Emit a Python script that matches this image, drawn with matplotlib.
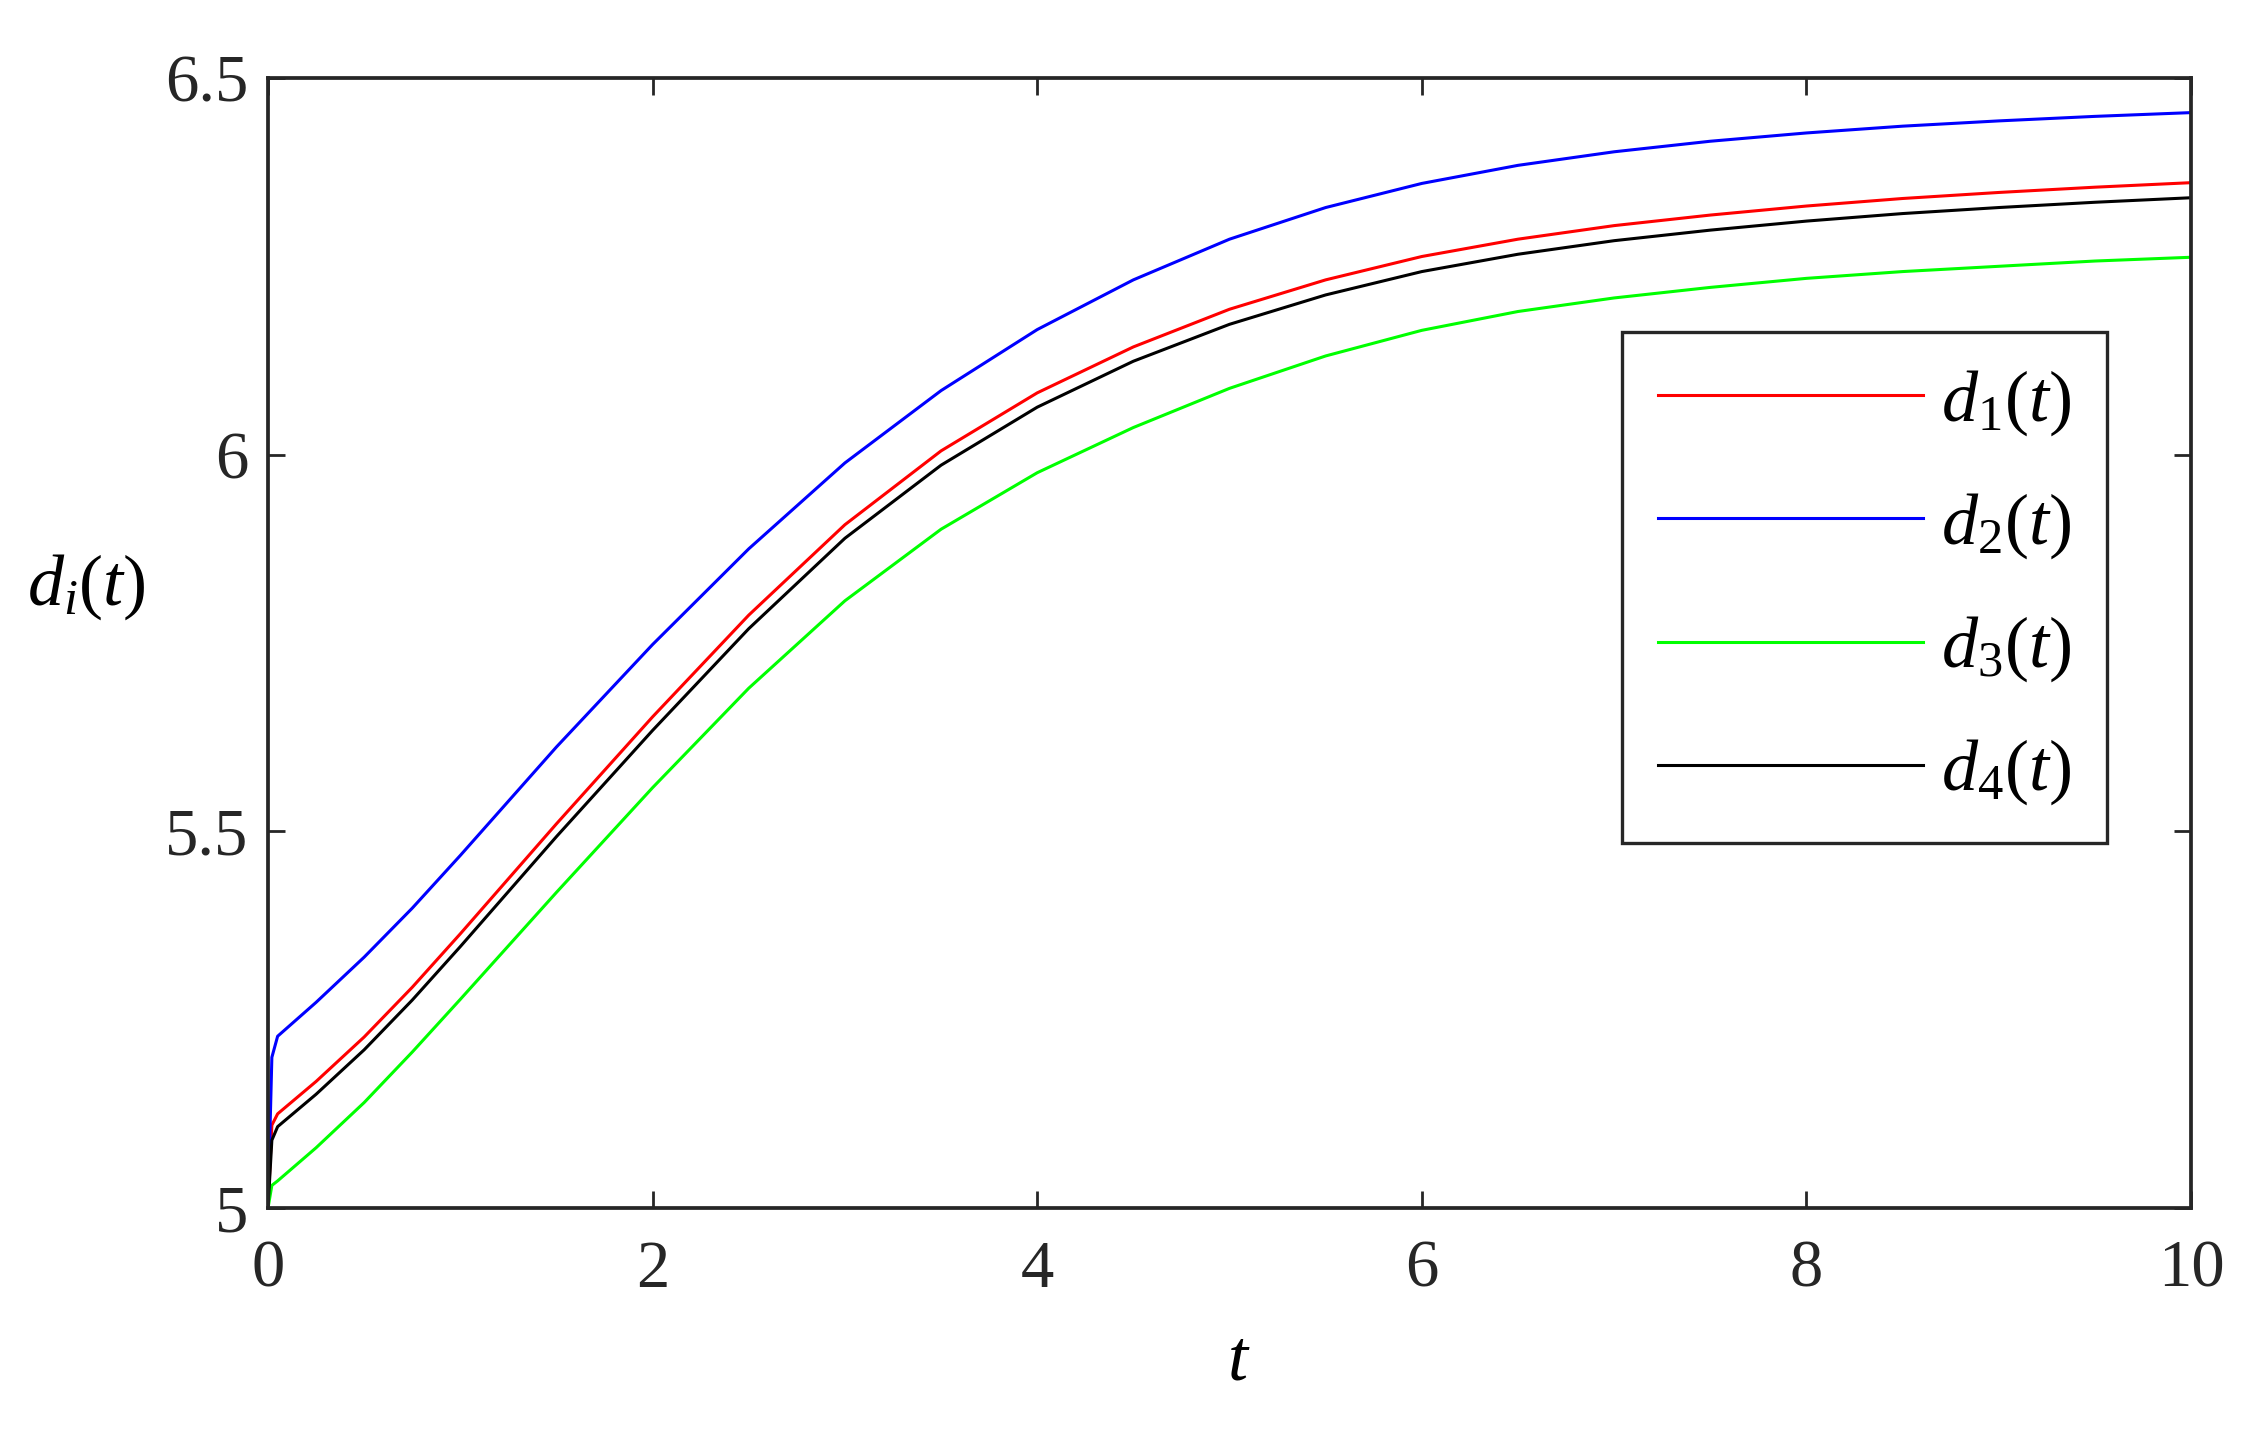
import matplotlib
matplotlib.use("Agg")
import matplotlib.pyplot as plt

# serif look like the MATLAB figure (Times)
plt.rcParams['font.family'] = 'Liberation Serif'
plt.rcParams['mathtext.fontset'] = 'custom'
plt.rcParams['mathtext.rm'] = 'Liberation Serif'
plt.rcParams['mathtext.it'] = 'Liberation Serif:italic'

# time samples
t = [0, 0.02, 0.05, 0.25, 0.5, 0.75, 1.0, 1.5, 2.0, 2.5, 3.0, 3.5, 4.0,
     4.5, 5.0, 5.5, 6.0, 6.5, 7.0, 7.5, 8.0, 8.5, 9.0, 9.5, 10.0]

# d_i(t) values
d1 = [5.0, 5.11, 5.125, 5.168, 5.227, 5.293, 5.364, 5.510, 5.652, 5.787, 5.907, 6.005, 6.082,
      6.143, 6.193, 6.232, 6.263, 6.286, 6.304, 6.318, 6.330, 6.340, 6.348, 6.355, 6.361]
d2 = [5.0, 5.20, 5.228, 5.273, 5.333, 5.398, 5.468, 5.612, 5.748, 5.875, 5.989, 6.085, 6.166,
      6.232, 6.286, 6.328, 6.360, 6.384, 6.402, 6.416, 6.427, 6.436, 6.443, 6.449, 6.454]
d3 = [5.0, 5.03, 5.036, 5.08, 5.14, 5.207, 5.277, 5.419, 5.558, 5.690, 5.806, 5.901, 5.976,
      6.036, 6.088, 6.131, 6.165, 6.190, 6.208, 6.222, 6.234, 6.243, 6.250, 6.257, 6.262]
d4 = [5.0, 5.09, 5.108, 5.151, 5.210, 5.276, 5.347, 5.493, 5.634, 5.769, 5.889, 5.986, 6.063,
      6.124, 6.173, 6.212, 6.243, 6.266, 6.284, 6.298, 6.310, 6.320, 6.328, 6.335, 6.341]

labels = ["$d_1(t)$", "$d_2(t)$", "$d_3(t)$", "$d_4(t)$"]
colors = ["#ff0000", "#0000ff", "#00ff00", "#000000"]

xticks = [0, 2, 4, 6, 8, 10]
yticks = [5, 5.5, 6, 6.5]

fig = plt.figure(figsize=(22.56, 14.33), dpi=100)
ax = fig.add_axes([0.1188, 0.1570, 0.8524, 0.7886])

for d, lab, c in zip([d1, d2, d3, d4], labels, colors):
    ax.plot(t, d, color=c, linewidth=2.2, label=lab)

ax.set_xlim(0, 10)
ax.set_ylim(5, 6.5)
ax.set_xticks(xticks)
ax.set_yticks(yticks)
ax.set_xticklabels([str(v) for v in xticks])
ax.set_yticklabels(["5", "5.5", "6", "6.5"])

# MATLAB style box: ticks inside on all four sides
ax.tick_params(direction="in", length=12, width=2, top=True, right=True,
               labelsize=48, colors="#262626", pad=14)
ax.tick_params(axis="x", pad=23)
for s in ax.spines.values():
    s.set_linewidth(2.7)
    s.set_color("#262626")

ax.set_xlabel("$t$", fontsize=52)
ax.xaxis.set_label_coords(0.505, -0.136)
ax.xaxis.label.set_va("center")
ax.set_ylabel("$d_i(t)$", fontsize=52, rotation=0, ha="center", va="center")
ax.yaxis.set_label_coords(-0.0946, 0.549)

leg = ax.legend(loc="upper right", bbox_to_anchor=(0.9563, 0.7752), borderaxespad=0,
                fontsize=52, handlelength=3.67, handletextpad=0.25, labelspacing=0.74,
                borderpad=0.5, fancybox=False, framealpha=1)
leg.get_frame().set_edgecolor("#262626")
leg.get_frame().set_linewidth(2.4)

fig.savefig("out.png", dpi=100)
